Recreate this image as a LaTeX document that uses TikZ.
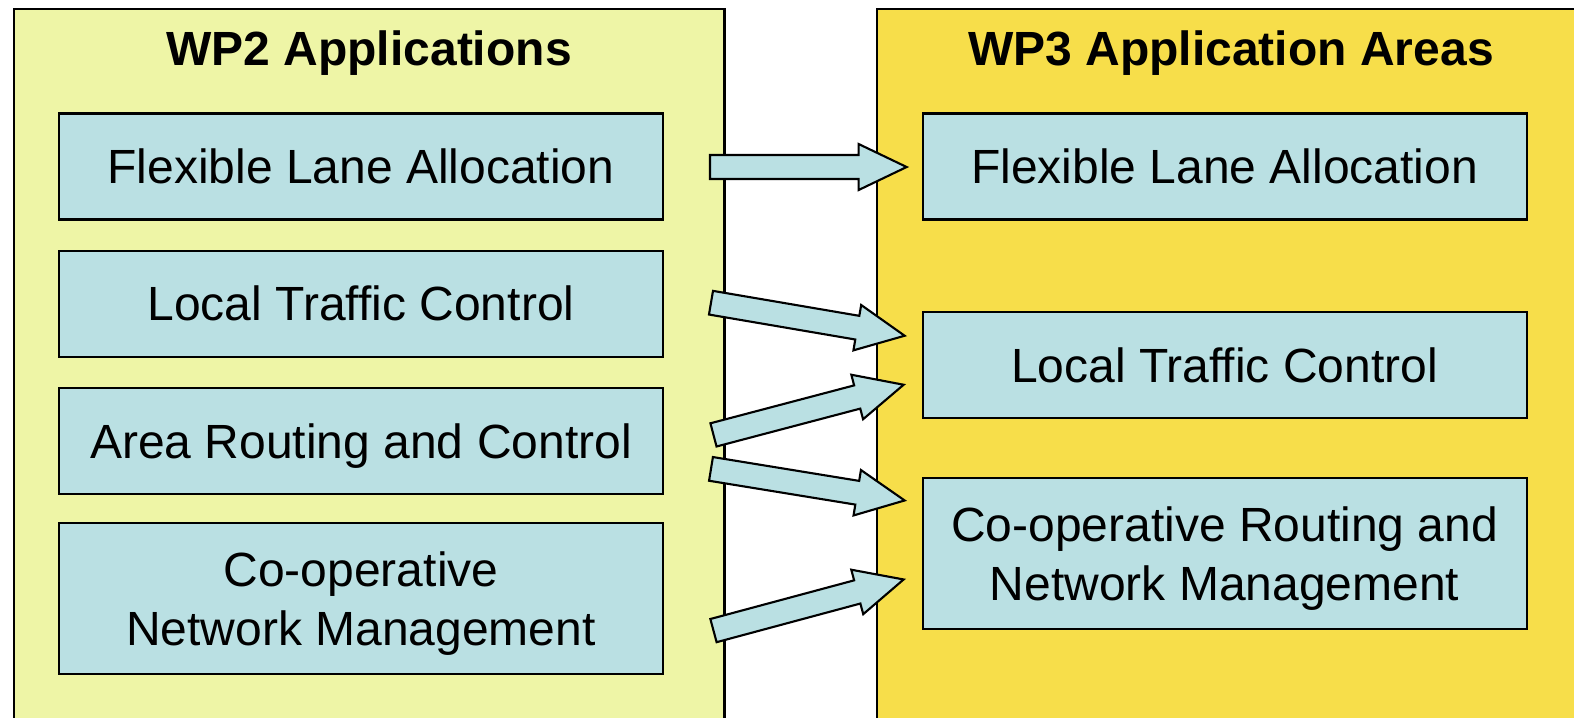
\documentclass[tikz,border=0pt]{standalone}
\usepackage{fontspec}
\setmainfont{Liberation Sans}
\usepackage{tikz}
\usetikzlibrary{calc,positioning}

\definecolor{paleyellow}{RGB}{238,245,166}
\definecolor{areayellow}{RGB}{247,222,74}
\definecolor{boxblue}{RGB}{186,224,227}

% block arrow, tail #1, tip #2
\newcommand{\blockarrow}[2]{%
 \draw [fatarrow] ($(#1)!0.12cm!90:(#2)$)
  -- ($(#2)!0.48cm!(#1)!0.12cm!-90:(#1)$)
  -- ($(#2)!0.48cm!(#1)!0.23cm!-90:(#1)$)
  -- (#2)
  -- ($(#2)!0.48cm!(#1)!0.23cm!90:(#1)$)
  -- ($(#2)!0.48cm!(#1)!0.12cm!90:(#1)$)
  -- ($(#1)!0.12cm!-90:(#2)$) -- cycle;
}

\begin{document}
\begin{tikzpicture}[
    x=0.01cm,
    y=-0.01cm,
    font=\fontsize{13.65}{16.6}\selectfont,
    line width=0.6pt,
    package/.style={
		rectangle,
		draw=black,
		anchor=north west,
		minimum height=7.4cm,
		inner sep=0pt
	},
	app/.style={
		rectangle,
		draw=black,
		fill=boxblue,
		text centered,
		align=center,
		minimum width=6.035cm,
		minimum height=1.06cm,
		text depth=0pt
	},
	oneline/.style={
		text height=0.345cm
	},
	title/.style={
		anchor=base,
		font=\fontsize{13.65}{16.6}\selectfont\bfseries
	},
	fatarrow/.style={
		draw=black,
		fill=boxblue,
		line join=miter
	}
  ]

\useasboundingbox (0,0) rectangle (1574,717);
\clip (0,0) rectangle (1574,717);

% // The work packages
\node [package, fill=paleyellow, minimum width=7.10cm] (wp2) at (13,8) {};
\node [package, fill=areayellow, minimum width=7.4cm] (wp3) at (876,8) {};
\node [title] (title2) at (369,65) {WP2 Applications};
\node [title] (title3) at (1231,65) {WP3 Application Areas};

% // Applications
\node [app, oneline] (l1) at (361,166.5) {Flexible Lane Allocation};
\node [app, oneline, below=0.29cm of l1] (l2) {Local Traffic Control};
\node [app, oneline, below=0.29cm of l2] (l3) {Area Routing and Control};
\node [app, below=0.27cm of l3, minimum height=1.51cm] (l4) {Co-operative\\Network Management};

% // Application areas
\node [app, oneline, right=2.575cm of l1] (r1) {Flexible Lane Allocation};
\node [app, oneline, below=0.90cm of r1] (r2) {Local Traffic Control};
\node [app, below=0.58cm of r2, minimum height=1.51cm] (r3) {Co-operative Routing and\\Network Management};

% // arrow ends
\coordinate (t1) at ($(l1.east)+(46,0.5)$);
\coordinate (h1) at ($(r1.west)+(-15,0.5)$);
\coordinate (t2) at ($(l2.east)+(47,-1)$);
\coordinate (h2) at ($(r2.west)+(-17,-29)$);
\coordinate (t3) at ($(l3.east)+(49.5,-6)$);
\coordinate (h3) at ($(r2.west)+(-18,20)$);
\coordinate (t4) at ($(l3.east)+(47,28)$);
\coordinate (h4) at ($(r3.west)+(-17,-53)$);
\coordinate (t5) at ($(l4.east)+(49.5,32)$);
\coordinate (h5) at ($(r3.west)+(-18,26)$);

\blockarrow{t1}{h1}
\blockarrow{t2}{h2}
\blockarrow{t3}{h3}
\blockarrow{t4}{h4}
\blockarrow{t5}{h5}

\end{tikzpicture}
\end{document}
